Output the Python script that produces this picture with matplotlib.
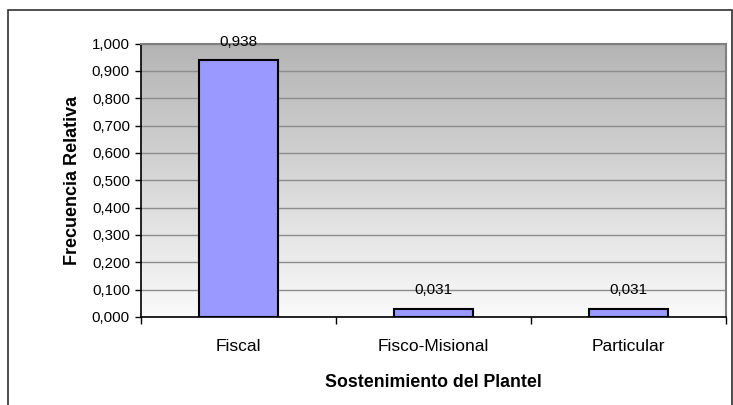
import numpy as np
import matplotlib
matplotlib.use("Agg")
import matplotlib.pyplot as plt
from matplotlib.patches import Rectangle
from matplotlib.colors import LinearSegmentedColormap

categorias = ["Fiscal", "Fisco-Misional", "Particular"]
frecuencias = [0.938, 0.031, 0.031]
etiquetas = ["0,938", "0,031", "0,031"]
yticks = [0.0, 0.1, 0.2, 0.3, 0.4, 0.5, 0.6, 0.7, 0.8, 0.9, 1.0]

plt.rcParams["font.family"] = ["Liberation Sans", "DejaVu Sans"]

fig = plt.figure(figsize=(7.33, 4.05), dpi=100)
ax = fig.add_axes([141 / 733, 88 / 405, 585 / 733, 273.5 / 405])

# outer chart border
fig.patches.append(Rectangle((8 / 733, -0.05), 723.5 / 733, 1.05 - 10 / 405,
                             transform=fig.transFigure, fill=False,
                             edgecolor="#303030", linewidth=1.2))

# gray gradient background of plot area
cmap = LinearSegmentedColormap.from_list("bg", ["#fafafa", "#b4b4b4"])
grad = np.linspace(0, 1, 256).reshape(-1, 1)
ax.imshow(grad, cmap=cmap, aspect="auto", extent=[0, 1, 0, 1],
          transform=ax.transAxes, origin="lower", zorder=0)

x = np.arange(len(categorias))
ax.bar(x, frecuencias, width=0.405, color="#9999ff", edgecolor="black",
       linewidth=1.5, zorder=3)

for xi, v, t in zip(x, frecuencias, etiquetas):
    ax.annotate(t, (xi, v), xytext=(0, 8), textcoords="offset points",
                ha="center", va="bottom", fontsize=11, zorder=4)

ax.set_xlim(-0.5, 2.5)
ax.set_ylim(0, 1.0)
ax.set_yticks(yticks)
ax.set_yticklabels([f"{v:.3f}".replace(".", ",") for v in yticks], fontsize=10.8)
ax.set_xticks([-0.5, 0.5, 1.5, 2.5])
ax.set_xticklabels([])
ax.set_xticks(x, minor=True)
ax.set_xticklabels(categorias, minor=True, fontsize=12.5)
ax.tick_params(axis="x", which="minor", length=0, pad=16)
ax.tick_params(axis="x", which="major", length=5, width=1)
ax.tick_params(axis="y", length=4, width=1, pad=4)

ax.yaxis.grid(True, color="#8c8c8c", linewidth=1, zorder=1)
ax.set_axisbelow(True)

for s in ["left", "bottom"]:
    ax.spines[s].set_color("black")
    ax.spines[s].set_linewidth(1.2)
for s in ["top", "right"]:
    ax.spines[s].set_color("#808080")
    ax.spines[s].set_linewidth(1.5)

ax.set_ylabel("Frecuencia Relativa", fontsize=13, fontweight="bold", labelpad=8)
ax.set_xlabel("Sostenimiento del Plantel", fontsize=12.8, fontweight="bold", labelpad=14)

fig.savefig("out.png", dpi=100)
